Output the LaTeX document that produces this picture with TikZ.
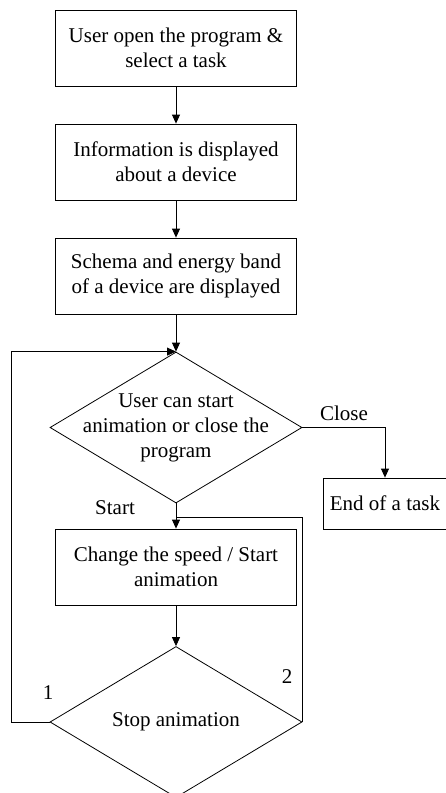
\documentclass[tikz,border=0pt]{standalone}
\usepackage{fontspec}
\setmainfont{Liberation Serif}
\usetikzlibrary{shapes.geometric,arrows.meta}
\begin{document}
\begin{tikzpicture}[x=1pt,y=-1pt,
 every node/.style={font=\fontsize{21}{25}\selectfont},
 procbox/.style={draw,line width=0.8pt,minimum width=241pt,minimum height=76pt,align=center,inner sep=0pt},
 endbox/.style={draw,line width=0.8pt,minimum width=124pt,minimum height=51pt,inner sep=0pt},
 decision/.style={draw,diamond,line width=0.8pt,minimum width=252pt,minimum height=151pt,inner sep=0pt},
 arr/.style={line width=0.8pt,-{Triangle[length=9pt,width=8pt]}},
 conn/.style={line width=0.8pt}]
\useasboundingbox (0,0) rectangle (445,793);
\node[procbox] (b1) at (176,48) {User open the program \&\\select a task};
\node[procbox] (b2) at (176,162) {Information is displayed\\about a device};
\node[procbox] (b3) at (176,276) {Schema and energy band\\of a device are displayed};
\node[decision] (d1) at (176,427.5) {};
\node[align=center] (t1) at (d1) {User can start\\animation or close the\\program};
\node[endbox] (e) at (385,503.5) {End of a task};
\node[procbox] (b4) at (176,567) {Change the speed / Start\\animation};
\node[decision] (d2) at (176,722) {};
\node (t2) at (d2) {Stop animation};
\node (lclose) at (344,413) {Close};
\node (lstart) at (115,508) {Start};
\node (l1) at (48,693) {1};
\node (l2) at (287,677) {2};
\coordinate (j) at (176,517);
\draw[arr] (b1) -- (b2);
\draw[arr] (b2) -- (b3);
\draw[arr] (b3) -- (d1);
\draw[arr] (d1) -- (b4);
\draw[arr] (b4) -- (d2);
\draw[arr] (d1.east) -| (e.north);
\draw[arr] (d2.west) -- ++(-38,0) |- (d1.north);
\draw[conn] (d2.east) |- (j);
\end{tikzpicture}
\end{document}
